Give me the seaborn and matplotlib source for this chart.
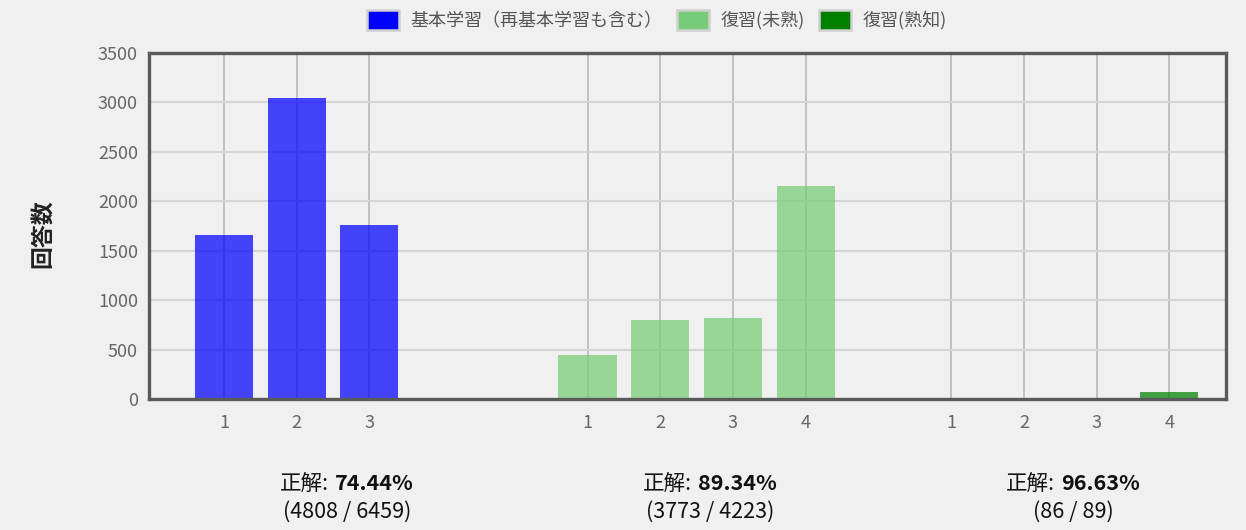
import matplotlib
matplotlib.use("Agg")
import matplotlib.pyplot as plt
from matplotlib.patches import Patch
import seaborn as sns
import pandas as pd

# ---- data ----
series_names = ["基本学習（再基本学習も含む）", "復習(未熟)", "復習(熟知)"]
cats_basic = ["1", "2", "3"]
vals_basic = [1655, 3045, 1759]
cats_weak = ["1", "2", "3", "4"]
vals_weak = [447, 803, 818, 2155]
cats_known = ["1", "2", "3", "4"]
vals_known = [2, 5, 10, 72]
rate_texts = ["74.44%", "89.34%", "96.63%"]
count_texts = ["(4808 / 6459)", "(3773 / 4223)", "(86 / 89)"]
legend_colors = ["#0000ff", "#77cc77", "#008000"]
y_ticks = [0, 500, 1000, 1500, 2000, 2500, 3000, 3500]

# build table with positions (groups separated by gaps)
groups = [(cats_basic, vals_basic), (cats_weak, vals_weak), (cats_known, vals_known)]
group_start = [1, 6, 11]
rows = []
for gi, (cats, vals) in enumerate(groups):
    for ci, (c, v) in enumerate(zip(cats, vals)):
        rows.append({"pos": group_start[gi] + ci, "label": c, "value": v,
                     "series": series_names[gi]})
df = pd.DataFrame(rows)

sns.set_theme(style="white")
plt.rcParams["font.family"] = ["Noto Sans CJK JP", "DejaVu Sans"]
BG = "#f0f0f0"
W, H = 1246, 530

fig = plt.figure(figsize=(W / 100, H / 100), dpi=100, facecolor=BG)
ax = fig.add_axes([149 / W, 1 - 399 / H, (1226 - 149) / W, (399 - 53) / H])
ax.set_facecolor(BG)

palette = dict(zip(series_names, legend_colors))
sns.barplot(data=df, x="pos", y="value", hue="series", palette=palette,
            native_scale=True, dodge=False, width=0.8, alpha=0.72, saturation=1,
            linewidth=0, legend=False, ax=ax, errorbar=None, zorder=3)

ax.set_xlim(-0.03, 14.78)
ax.set_ylim(0, 3500)
ax.set_xticks(df["pos"].tolist())
ax.set_xticklabels(df["label"].tolist())
ax.set_yticks(y_ticks)
ax.set_yticklabels([str(t) for t in y_ticks])
ax.tick_params(axis="both", length=0, labelsize=13, colors="#666666")
ax.tick_params(axis="x", pad=11)
ax.tick_params(axis="y", pad=8)
ax.set_axisbelow(True)
ax.yaxis.grid(True, color="#d4d4d4", linewidth=1.5)
ax.xaxis.grid(True, color="#bdbdbd", linewidth=1.3)
for s in ax.spines.values():
    s.set_visible(True)
    s.set_color("#5a5a5a")
    s.set_linewidth(2.4)
    s.set_zorder(5)
ax.set_xlabel("")
ax.set_ylabel("")

fig.text(43 / W, 1 - 234 / H, "回答数", rotation=90, ha="center", va="center",
         fontsize=16.5, fontweight="bold", color="#222222")

# legend
handles = [Patch(facecolor=c, edgecolor="#d0d0d0", linewidth=1.8) for c in legend_colors]
leg = fig.legend(handles, series_names, loc="center", bbox_to_anchor=(657 / W, 1 - 20 / H),
                 ncol=3, frameon=False, fontsize=13, handlelength=1.75, handleheight=1.3,
                 handletextpad=0.65, columnspacing=0.8, borderaxespad=0)
for t in leg.get_texts():
    t.set_color("#555555")

# summary texts under groups
centers = [347, 710, 1073]
fig.canvas.draw()
renderer = fig.canvas.get_renderer()
for cx, rt, ct in zip(centers, rate_texts, count_texts):
    t1 = fig.text(0, 1 - 484 / H, "正解:", ha="left", va="center",
                  fontsize=15.5, color="#111111")
    t2 = fig.text(0, 1 - 484 / H, rt, ha="left", va="center",
                  fontsize=15.5, fontweight="bold", color="#111111")
    w1 = t1.get_window_extent(renderer).width
    w2 = t2.get_window_extent(renderer).width
    gap = 6
    x0 = cx - (w1 + gap + w2) / 2
    t1.set_x(x0 / W)
    t2.set_x((x0 + w1 + gap) / W)
    fig.text(cx / W, 1 - 512 / H, ct, ha="center", va="center",
             fontsize=15.5, color="#111111")

fig.savefig("out.png", dpi=100, facecolor=BG)
